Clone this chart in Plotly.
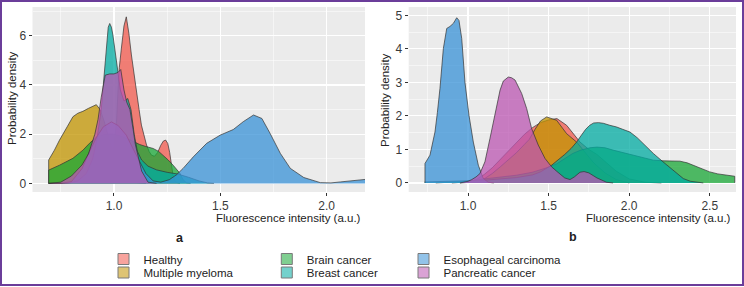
import plotly.graph_objects as go

W, H = 744, 287

SERIES = ["Healthy", "Multiple myeloma", "Brain cancer", "Breast cancer",
          "Esophageal carcinoma", "Pancreatic cancer"]
BASE_RGB = [(242, 88, 76), (194, 148, 0), (24, 167, 54), (0, 171, 162),
            (56, 146, 215), (187, 86, 178)]

# ---------------- panel a ----------------
a_healthy_x = [0.693, 0.75, 0.80, 0.85, 0.90, 0.94, 0.97, 1.00, 1.012, 1.019, 1.025, 1.035, 1.047, 1.058,
               1.07, 1.082, 1.094, 1.106, 1.118, 1.129, 1.141, 1.153, 1.165, 1.176, 1.19, 1.205, 1.22,
               1.232, 1.243, 1.253, 1.262, 1.27, 1.278, 1.29, 1.31]
a_healthy_y = [0.0, 0.02, 0.07, 0.2, 0.45, 0.8, 1.1, 1.5, 2.5, 3.8, 4.7, 5.5, 6.4, 6.77,
               6.1, 5.22, 4.4, 3.72, 3.0, 2.37, 1.95, 1.56, 1.3, 1.15, 1.1, 1.25, 1.55,
               1.72, 1.76, 1.62, 1.25, 0.75, 0.3, 0.05, 0.0]

a_myeloma_x = [0.693, 0.693, 0.72, 0.744, 0.78, 0.807, 0.83, 0.854, 0.88, 0.90, 0.917, 0.935,
               0.955, 0.98, 1.00, 1.03, 1.06, 1.10, 1.15]
a_myeloma_y = [0.0, 0.95, 1.35, 1.76, 2.3, 2.71, 2.85, 2.93, 3.05, 3.15, 3.2, 3.0,
               2.5, 1.7, 1.1, 0.5, 0.2, 0.04, 0.0]

a_brain_x = [0.693, 0.693, 0.744, 0.807, 0.854, 0.885, 0.92, 0.96, 1.00, 1.04, 1.08, 1.121, 1.15,
             1.184, 1.21, 1.231, 1.255, 1.278, 1.295, 1.31, 1.325, 1.34, 1.36]
a_brain_y = [0.0, 0.54, 0.74, 1.02, 1.35, 1.63, 1.9, 2.0, 2.0, 1.9, 1.75, 1.58, 1.5,
             1.42, 1.3, 1.15, 0.95, 0.74, 0.55, 0.41, 0.15, 0.03, 0.0]

a_breast_x = [0.693, 0.78, 0.83, 0.87, 0.90, 0.92, 0.94, 0.95, 0.958, 0.966, 0.973, 0.98, 0.988,
              0.995, 1.007, 1.016, 1.03, 1.047, 1.065, 1.08, 1.095, 1.11, 1.13, 1.16, 1.2, 1.25,
              1.3, 1.35, 1.4, 1.44, 1.47]
a_breast_y = [0.0, 0.0, 0.1, 0.4, 1.0, 1.8, 3.0, 4.0, 5.0, 5.9, 6.35, 6.5, 6.35,
              6.03, 5.2, 4.54, 3.8, 3.35, 3.45, 3.0, 2.0, 1.3, 0.95, 0.7, 0.55, 0.45,
              0.38, 0.25, 0.1, 0.02, 0.0]

a_eso_x = [0.693, 0.75, 0.80, 0.85, 0.885, 0.92, 0.95, 0.988, 1.02, 1.058, 1.09, 1.121, 1.15,
           1.184, 1.22, 1.26, 1.294, 1.325, 1.373, 1.436, 1.499, 1.561, 1.608, 1.656, 1.695,
           1.734, 1.782, 1.829, 1.892, 1.97, 2.02, 2.065, 2.128, 2.18]
a_eso_y = [0.0, 0.0, 0.07, 0.6, 1.29, 1.9, 2.3, 2.5, 2.35, 1.96, 1.4, 0.88, 0.4,
           0.1, 0.05, 0.15, 0.35, 0.61, 1.08, 1.63, 1.96, 2.19, 2.51, 2.78, 2.64,
           2.03, 1.22, 0.61, 0.24, 0.03, 0.02, 0.06, 0.1, 0.16]

a_panc_x = [0.693, 0.75, 0.80, 0.85, 0.88, 0.91, 0.925, 0.94, 0.959, 0.98, 1.00, 1.019, 1.032,
            1.047, 1.06, 1.075, 1.09, 1.10, 1.13, 1.16, 1.2]
a_panc_y = [0.0, 0.05, 0.3, 0.75, 1.2, 2.0, 2.6, 3.5, 4.4, 4.45, 4.45, 4.51, 4.63,
            3.8, 3.3, 3.0, 2.2, 1.6, 0.5, 0.05, 0.0]

# ---------------- panel b ----------------
b_healthy_x = [0.9, 1.0, 1.05, 1.1, 1.15, 1.2, 1.25, 1.3, 1.35, 1.4, 1.45, 1.5, 1.552, 1.612,
               1.653, 1.695, 1.75, 1.8, 1.86, 1.92, 2.0, 2.1, 2.2]
b_healthy_y = [0.0, 0.03, 0.1, 0.25, 0.45, 0.7, 0.95, 1.2, 1.45, 1.65, 1.8, 1.88, 1.92, 1.72,
               1.47, 1.22, 1.0, 0.85, 0.6, 0.35, 0.12, 0.02, 0.0]

b_myeloma_x = [0.95, 1.05, 1.1, 1.15, 1.2, 1.25, 1.3, 1.35, 1.38, 1.416, 1.45, 1.488, 1.52, 1.55,
               1.612, 1.674, 1.72, 1.78, 1.85, 1.92, 2.0]
b_myeloma_y = [0.0, 0.03, 0.12, 0.28, 0.48, 0.68, 0.9, 1.15, 1.3, 1.6, 1.85, 1.97, 1.92, 1.87,
               1.47, 1.22, 0.95, 0.6, 0.3, 0.1, 0.0]

b_brain_x = [0.8, 0.9, 1.0, 1.1, 1.2, 1.3, 1.4, 1.5, 1.55, 1.6, 1.65, 1.7, 1.757, 1.8, 1.85,
             1.9, 1.95, 2.0, 2.05, 2.1, 2.15, 2.21, 2.26, 2.315, 2.36, 2.398, 2.45, 2.5, 2.55,
             2.6, 2.655, 2.655]
b_brain_y = [0.0, 0.02, 0.05, 0.12, 0.17, 0.23, 0.32, 0.47, 0.57, 0.72, 0.88, 0.98, 1.05, 1.07, 1.05,
             0.98, 0.92, 0.85, 0.78, 0.72, 0.68, 0.66, 0.66, 0.65, 0.6, 0.53, 0.43, 0.33, 0.27,
             0.23, 0.2, 0.0]

b_breast_x = [0.731, 0.8, 0.9, 1.0, 1.1, 1.2, 1.3, 1.4, 1.45, 1.519, 1.56, 1.6, 1.64, 1.674, 1.7,
              1.73, 1.755, 1.78, 1.81, 1.84, 1.88, 1.922, 1.96, 2.005, 2.05, 2.088, 2.12, 2.15,
              2.21, 2.274, 2.336, 2.38, 2.42, 2.46]
b_breast_y = [0.03, 0.04, 0.05, 0.06, 0.08, 0.12, 0.16, 0.24, 0.33, 0.53, 0.68, 0.85, 1.03, 1.22, 1.4,
              1.6, 1.72, 1.79, 1.8, 1.78, 1.72, 1.67, 1.6, 1.52, 1.35, 1.17, 1.02, 0.88,
              0.63, 0.38, 0.13, 0.05, 0.02, 0.0]

b_eso_x = [0.733, 0.733, 0.764, 0.795, 0.81, 0.826, 0.847, 0.868, 0.888, 0.909, 0.93, 0.944, 0.961,
           0.981, 1.006, 1.033, 1.064, 1.095, 1.126, 1.16]
b_eso_y = [0.0, 0.58, 0.83, 1.52, 2.1, 2.82, 4.01, 4.61, 4.67, 4.76, 4.93, 4.85, 4.31,
           3.01, 2.02, 1.22, 0.53, 0.13, 0.02, 0.0]

b_panc_x = [0.95, 1.0, 1.023, 1.05, 1.074, 1.105, 1.136, 1.167, 1.199, 1.219, 1.25, 1.27, 1.292,
            1.333, 1.364, 1.395, 1.436, 1.478, 1.519, 1.55, 1.6, 1.633, 1.66, 1.695, 1.72, 1.75,
            1.8, 1.86, 1.9]
b_panc_y = [0.0, 0.05, 0.1, 0.18, 0.28, 0.63, 1.32, 2.02, 2.77, 3.04, 3.16, 3.14, 3.07,
            2.67, 2.22, 1.62, 1.13, 0.73, 0.48, 0.35, 0.15, 0.1, 0.18, 0.32, 0.34, 0.3,
            0.15, 0.02, 0.0]

PANEL_A = [(a_healthy_x, a_healthy_y), (a_myeloma_x, a_myeloma_y), (a_brain_x, a_brain_y),
           (a_breast_x, a_breast_y), (a_eso_x, a_eso_y), (a_panc_x, a_panc_y)]
PANEL_B = [(b_healthy_x, b_healthy_y), (b_myeloma_x, b_myeloma_y), (b_brain_x, b_brain_y),
           (b_breast_x, b_breast_y), (b_eso_x, b_eso_y), (b_panc_x, b_panc_y)]

A_XTICKS = [1.0, 1.5, 2.0]
A_YTICKS = [0, 2, 4, 6]
B_XTICKS = [1.0, 1.5, 2.0, 2.5]
B_YTICKS = [0, 1, 2, 3, 4, 5]
X_TITLE = "Fluorescence intensity (a.u.)"
Y_TITLE = "Probability density"


def rgba(rgb, a):
    return "rgba(%d,%d,%d,%.2f)" % (rgb[0], rgb[1], rgb[2], a)


fig = go.Figure()
for panel, (xa, ya) in ((PANEL_A, ("x", "y")), (PANEL_B, ("x2", "y2"))):
    for name, rgb, (xs, ys) in zip(SERIES, BASE_RGB, panel):
        fig.add_trace(go.Scatter(
            x=xs, y=ys, xaxis=xa, yaxis=ya, mode="lines", fill="tozeroy",
            fillcolor=rgba(rgb, 0.75), line=dict(color="#333333", width=0.7),
            name=name, showlegend=False, hoverinfo="skip"))

# legend entries (one legend per key so the 3x2 key grid matches)
leg_cols = [127.5, 127.5, 290.8, 290.8, 427.5, 427.5]
leg_rows = [259, 272.5, 259, 272.5, 259, 272.5]
legend_layouts = {}
for i, (name, rgb) in enumerate(zip(SERIES, BASE_RGB)):
    lname = "legend" if i == 0 else "legend%d" % (i + 1)
    fig.add_trace(go.Scatter(
        x=[None], y=[None], mode="markers", name=name, legend=lname, showlegend=True,
        marker=dict(symbol="square", size=11, color=rgba(rgb, 0.55),
                    line=dict(color="#7a7a7a", width=1))))
    legend_layouts[lname] = dict(
        x=(leg_cols[i] - 24) / W, y=1 - leg_rows[i] / H, xanchor="left", yanchor="middle",
        bgcolor="rgba(0,0,0,0)", borderwidth=0, itemwidth=30,
        font=dict(family="Liberation Sans, Arial, sans-serif", size=11.5, color="#222222"))

grid_common = dict(showgrid=True, gridcolor="white", gridwidth=1.1, zeroline=False,
                   showline=False, ticks="outside", ticklen=3, tickwidth=1, tickcolor="#333333",
                   automargin=False,
                   tickfont=dict(family="Liberation Sans, Arial, sans-serif", size=12, color="#3a3a3a"))

ydom = [1 - 192 / H, 1 - 7 / H]
fig.update_layout(
    width=W, height=H, margin=dict(l=0, r=0, t=0, b=0),
    paper_bgcolor="white", plot_bgcolor="#EBEBEB", hovermode=False,
    xaxis=dict(domain=[32.5 / W, 365 / W], range=[0.617, 2.18], tickvals=A_XTICKS,
               ticktext=["%.1f" % v for v in A_XTICKS], anchor="y",
               minor=dict(dtick=0.25, tick0=0, showgrid=True, gridcolor="white", gridwidth=0.5, ticks=""),
               **grid_common),
    yaxis=dict(domain=ydom, range=[-0.35, 7.17], tickvals=A_YTICKS,
               ticktext=[str(v) for v in A_YTICKS], anchor="x",
               minor=dict(dtick=1, tick0=0, showgrid=True, gridcolor="white", gridwidth=0.5, ticks=""),
               **grid_common),
    xaxis2=dict(domain=[408.7 / W, 736 / W], range=[0.632, 2.663], tickvals=B_XTICKS,
                ticktext=["%.1f" % v for v in B_XTICKS], anchor="y2",
                minor=dict(dtick=0.25, tick0=0, showgrid=True, gridcolor="white", gridwidth=0.5, ticks=""),
                **grid_common),
    yaxis2=dict(domain=ydom, range=[-0.27, 5.25], tickvals=B_YTICKS,
                ticktext=[str(v) for v in B_YTICKS], anchor="x2",
                minor=dict(dtick=0.5, tick0=0, showgrid=True, gridcolor="white", gridwidth=0.5, ticks=""),
                **grid_common),
    **legend_layouts,
)

txt_font = dict(family="Liberation Sans, Arial, sans-serif", size=11.5, color="#222222")
ann = [
    dict(x=363.3 / W, y=1 - 218 / H, text=X_TITLE, xanchor="right", yanchor="middle", font=txt_font),
    dict(x=732.7 / W, y=1 - 218 / H, text=X_TITLE, xanchor="right", yanchor="middle", font=txt_font),
    dict(x=12 / W, y=1 - 98 / H, text=Y_TITLE, textangle=-90, xanchor="center", yanchor="middle", font=txt_font),
    dict(x=385 / W, y=1 - 100 / H, text=Y_TITLE, textangle=-90, xanchor="center", yanchor="middle", font=txt_font),
    dict(x=180 / W, y=1 - 238 / H, text="<b>a</b>", xanchor="center", yanchor="middle",
         font=dict(family="Liberation Sans, Arial, sans-serif", size=12.5, color="#222222")),
    dict(x=573 / W, y=1 - 237 / H, text="<b>b</b>", xanchor="center", yanchor="middle",
         font=dict(family="Liberation Sans, Arial, sans-serif", size=12.5, color="#222222")),
]
for a in ann:
    a.update(xref="paper", yref="paper", showarrow=False)
fig.update_layout(annotations=ann)

# purple frame around the figure
fig.add_shape(type="rect", xref="paper", yref="paper",
              x0=1 / W, x1=743 / W, y0=1 - 285 / H, y1=1 - 1 / H,
              line=dict(color="#6B3D9A", width=2), fillcolor="rgba(0,0,0,0)", layer="above")

fig.write_html("out.html", config={"displayModeBar": False, "staticPlot": True},
               post_script="document.body.style.margin='0px';document.body.style.overflow='hidden';")
